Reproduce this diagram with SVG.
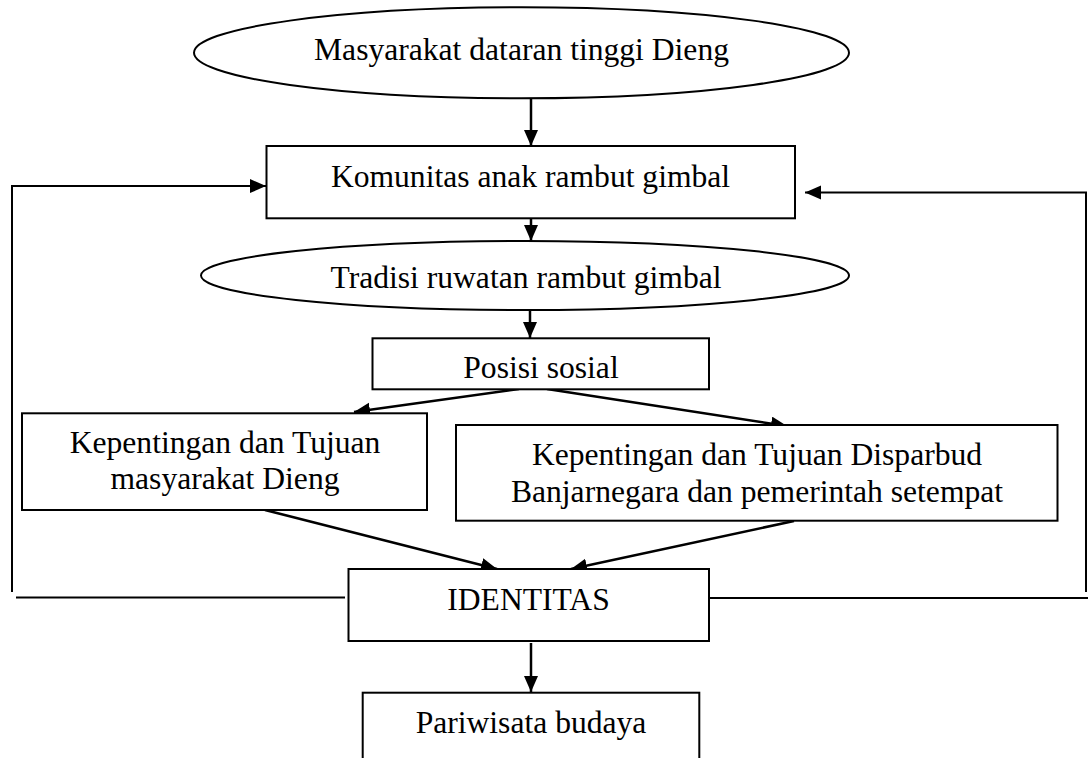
<svg xmlns="http://www.w3.org/2000/svg" width="1088" height="758" viewBox="0 0 1088 758">
<style>
.n{fill:#fff;stroke:#000;stroke-width:2}
.t{font-family:"Liberation Serif","Times New Roman",serif;font-size:31.6px;fill:#000;text-anchor:middle}
.c{fill:none;stroke:#000;stroke-width:2.5}
.f{fill:none;stroke:#000;stroke-width:2}
</style>
<defs>
<marker id="ah" markerUnits="userSpaceOnUse" markerWidth="17" markerHeight="15" refX="16" refY="7" orient="auto">
<path d="M0,0 L16,7 L0,14 z" fill="#000"/>
</marker>
</defs>
<rect width="1088" height="758" fill="#fff"/>
<g id="connectors">
<line class="c" x1="531" y1="98" x2="531" y2="146" marker-end="url(#ah)"/>
<line class="c" x1="531" y1="218" x2="531" y2="241" marker-end="url(#ah)"/>
<line class="c" x1="530" y1="310" x2="530" y2="338" marker-end="url(#ah)"/>
<line class="c" x1="519" y1="389" x2="354" y2="412" marker-end="url(#ah)"/>
<line class="c" x1="547" y1="389" x2="787" y2="426" marker-end="url(#ah)"/>
<line class="c" x1="265" y1="510" x2="497" y2="569" marker-end="url(#ah)"/>
<line class="c" x1="794" y1="521" x2="571" y2="569" marker-end="url(#ah)"/>
<line class="c" x1="531" y1="643" x2="531" y2="692" marker-end="url(#ah)"/>
<polyline class="f" points="12,592 12,186 266,186" marker-end="url(#ah)"/>
<polyline class="f" points="1086,592 1086,192.5 805,192.5" marker-end="url(#ah)"/>
<line class="f" x1="16" y1="597.5" x2="345" y2="597.5"/>
<line class="f" x1="710" y1="598" x2="1088" y2="598"/>
</g>
<g id="masyarakat">
<ellipse class="n" cx="521.5" cy="52.8" rx="327.5" ry="45.5"/>
<text class="t" x="521.5" y="59.5">Masyarakat dataran tinggi Dieng</text>
</g>
<g id="komunitas">
<rect class="n" x="266.5" y="146" width="528.5" height="72.3"/>
<text class="t" x="530.5" y="186.7">Komunitas anak rambut gimbal</text>
</g>
<g id="tradisi">
<ellipse class="n" cx="525" cy="275.5" rx="324" ry="34.5"/>
<text class="t" x="526" y="288.3">Tradisi ruwatan rambut gimbal</text>
</g>
<g id="posisi">
<rect class="n" x="372.5" y="338.3" width="336.5" height="51"/>
<text class="t" x="541" y="378.3">Posisi sosial</text>
</g>
<g id="kepentingan-masyarakat">
<rect class="n" x="22" y="413.3" width="405" height="96.7"/>
<text class="t" x="225" y="452.7">Kepentingan dan Tujuan</text>
<text class="t" x="225" y="489.3">masyarakat Dieng</text>
</g>
<g id="kepentingan-disparbud">
<rect class="n" x="456" y="425" width="601.5" height="95.7"/>
<text class="t" x="757" y="465">Kepentingan dan Tujuan Disparbud</text>
<text class="t" x="757" y="501.7">Banjarnegara dan pemerintah setempat</text>
</g>
<g id="identitas">
<rect class="n" x="348.5" y="569" width="360.5" height="72"/>
<text class="t" x="528.5" y="610">IDENTITAS</text>
</g>
<g id="pariwisata">
<rect class="n" x="362.7" y="692.7" width="336.6" height="80"/>
<text class="t" x="531" y="733">Pariwisata budaya</text>
</g>
</svg>
